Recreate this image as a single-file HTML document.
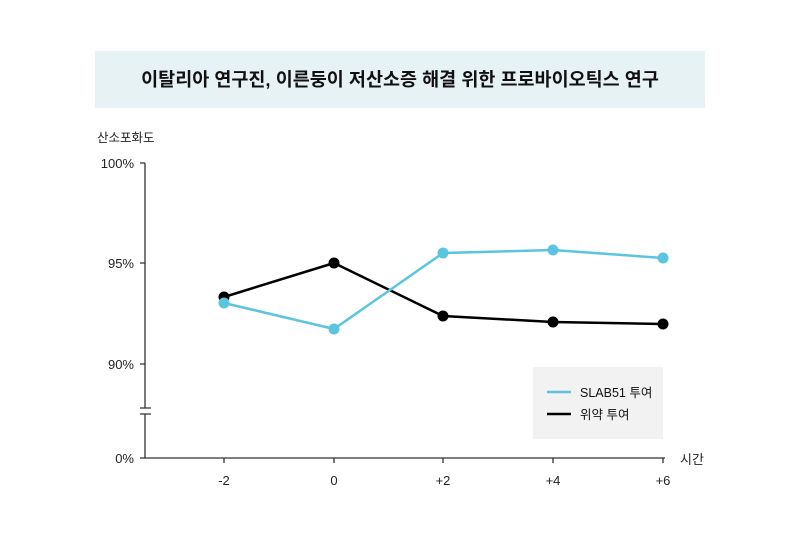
<!DOCTYPE html>
<html><head><meta charset="utf-8"><style>
body{margin:0;background:#fff;width:800px;height:540px;overflow:hidden}
text{font-family:"Liberation Sans","Noto Sans CJK KR",sans-serif}
</style></head><body>
<svg width="800" height="540" viewBox="0 0 800 540">
<rect x="95" y="51" width="610" height="57" fill="#e7f2f5"/>
<text x="400" y="86" text-anchor="middle" font-size="18.5" font-weight="bold" fill="#111">이탈리아 연구진, 이른둥이 저산소증 해결 위한 프로바이오틱스 연구</text>
<text x="97" y="142" font-size="12.5" fill="#222">산소포화도</text>
<g font-size="13" fill="#222" text-anchor="end">
<text x="134" y="168">100%</text><text x="134" y="268">95%</text><text x="134" y="369">90%</text><text x="134" y="463">0%</text>
</g>
<g stroke="#333" stroke-width="1.3" fill="none">
<path d="M145 163V408M145 414V458H665"/>
<path d="M140 163H145M140 263H145M140 364H145M140 458H145M140 408H151M140 414H151"/>
<path d="M224 458V463M334 458V463M443 458V463M553 458V463M663 458V463"/>
</g>
<g font-size="13" fill="#222" text-anchor="middle">
<text x="224" y="485">-2</text><text x="334" y="485">0</text><text x="443" y="485">+2</text><text x="553" y="485">+4</text><text x="663" y="485">+6</text>
</g>
<text x="680" y="464" font-size="13" fill="#222">시간</text>
<polyline points="224,297 334,263 443,316 553,322 663,324" fill="none" stroke="#000" stroke-width="2.5"/>
<g fill="#000"><circle cx="224" cy="297" r="5.5"/><circle cx="334" cy="263" r="5.5"/><circle cx="443" cy="316" r="5.5"/><circle cx="553" cy="322" r="5.5"/><circle cx="663" cy="324" r="5.5"/></g>
<polyline points="224,303 334,329 443,253 553,250 663,258" fill="none" stroke="#5bc4df" stroke-width="2.5"/>
<g fill="#5bc4df"><circle cx="224" cy="303" r="5.5"/><circle cx="334" cy="329" r="5.5"/><circle cx="443" cy="253" r="5.5"/><circle cx="553" cy="250" r="5.5"/><circle cx="663" cy="258" r="5.5"/></g>
<rect x="533" y="367" width="130" height="72" fill="#f2f2f2"/>
<path d="M547 392H571" stroke="#5bc4df" stroke-width="2.5"/>
<path d="M547 414H571" stroke="#000" stroke-width="2.5"/>
<text x="580" y="397" font-size="12.5" fill="#111">SLAB51 투여</text>
<text x="580" y="419" font-size="12.5" fill="#111">위약 투여</text>
</svg>
</body></html>
